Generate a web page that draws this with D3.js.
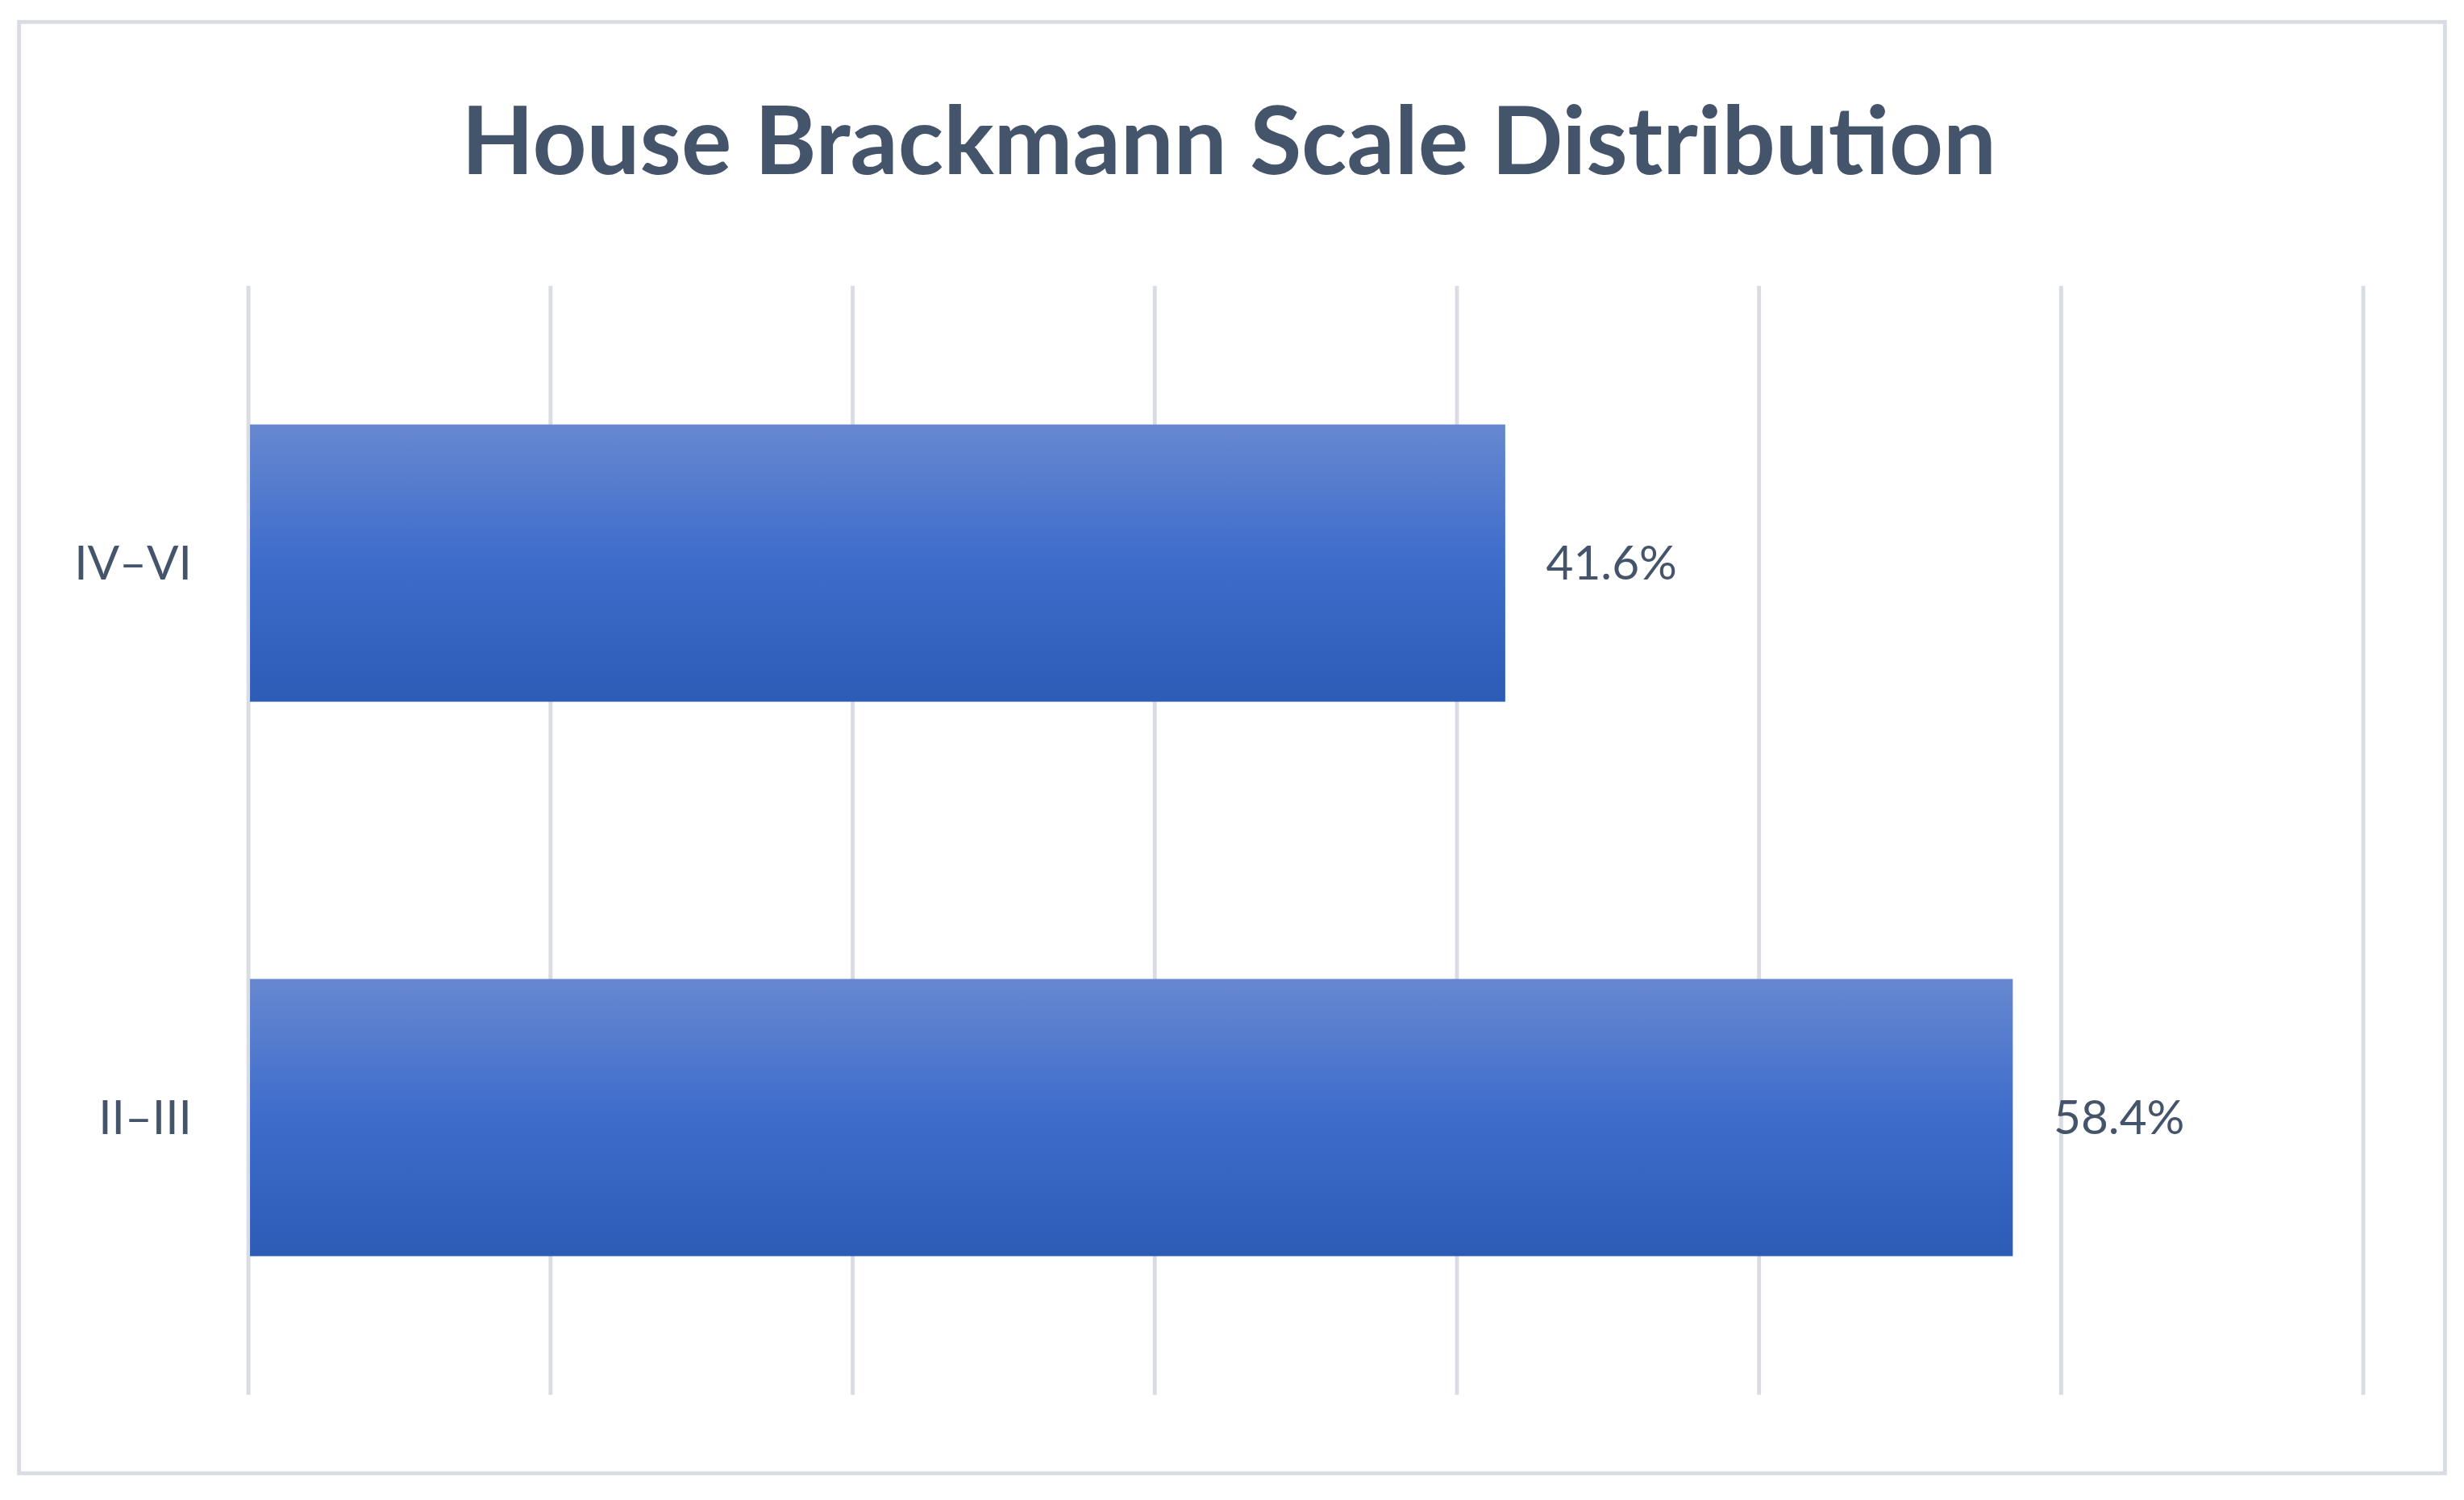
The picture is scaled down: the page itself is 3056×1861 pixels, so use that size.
<!DOCTYPE html>
<html>
<head>
<meta charset="utf-8">
<script src="https://cdn.jsdelivr.net/npm/d3@7"></script>
<style>
  html, body { margin: 0; padding: 0; background: #fff; }
</style>
</head>
<body>
<div class="chart"></div>
<script>
const categories = ["IV\u2013VI", "II\u2013III"];
const values = [41.6, 58.4];
const xTicks = [0, 10, 20, 30, 40, 50, 60, 70];

const W = 1568, H = 955;
const margin = { left: 158, right: 64, top: 182, bottom: 67 };

const svg = d3.select(".chart").append("svg")
    .attr("width", 3056)
    .attr("height", 1861)
    .attr("viewBox", `0 0 ${W} ${H}`)
    .style("font-family", "Lato, 'Open Sans', sans-serif");

const defs = svg.append("defs");
const grad = defs.append("linearGradient")
    .attr("id", "barGrad")
    .attr("x1", 0).attr("y1", 0).attr("x2", 0).attr("y2", 1);
grad.append("stop").attr("offset", "0%").attr("stop-color", "#6788d0");
grad.append("stop").attr("offset", "50%").attr("stop-color", "#3d6ccb");
grad.append("stop").attr("offset", "100%").attr("stop-color", "#2c5cb6");

// outer frame
svg.append("rect")
    .attr("x", 12).attr("y", 14)
    .attr("width", 1544).attr("height", 924)
    .attr("fill", "#fff")
    .attr("stroke", "#d9dce3")
    .attr("stroke-width", 2.5);

const x = d3.scaleLinear()
    .domain([0, 70])
    .range([margin.left, W - margin.right]);

const y = d3.scaleBand()
    .domain(categories)
    .range([margin.top, H - margin.bottom])
    .paddingInner(0.5)
    .paddingOuter(0.25);

svg.append("g")
    .selectAll("line")
    .data(xTicks)
    .join("line")
    .attr("x1", d => x(d)).attr("x2", d => x(d))
    .attr("y1", margin.top).attr("y2", H - margin.bottom)
    .attr("stroke", "#d9dce3")
    .attr("stroke-width", 2.5);

svg.append("g")
    .selectAll("rect")
    .data(values)
    .join("rect")
    .attr("x", x(0) + 1)
    .attr("y", (d, i) => y(categories[i]))
    .attr("width", d => x(d) - x(0) - 1)
    .attr("height", y.bandwidth())
    .attr("fill", "url(#barGrad)");

svg.append("g")
    .selectAll("text")
    .data(values)
    .join("text")
    .attr("x", d => x(d) + 26)
    .attr("y", (d, i) => y(categories[i]) + y.bandwidth() / 2)
    .attr("dy", "0.35em")
    .attr("font-size", 30)
    .attr("fill", "#44546a")
    .text(d => d.toFixed(1) + "%");

svg.append("g")
    .selectAll("text")
    .data(categories)
    .join("text")
    .attr("x", x(0) - 36)
    .attr("y", d => y(d) + y.bandwidth() / 2)
    .attr("dy", "0.35em")
    .attr("text-anchor", "end")
    .attr("font-size", 30)
    .attr("fill", "#44546a")
    .text(d => d);

svg.append("text")
    .attr("x", 782)
    .attr("y", 90)
    .attr("dy", "0.35em")
    .attr("text-anchor", "middle")
    .attr("font-size", 60)
    .attr("font-weight", "bold")
    .attr("fill", "#44546a")
    .text("House Brackmann Scale Distribution");
</script>
</body>
</html>
